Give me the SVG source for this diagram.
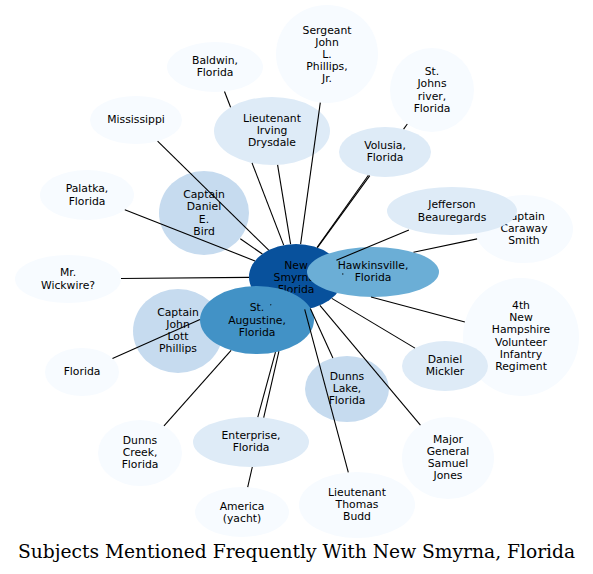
<svg xmlns="http://www.w3.org/2000/svg" width="593" height="574" viewBox="0 0 593 574">
<style>
.n text{font-family:"DejaVu Sans","Liberation Sans",sans-serif;font-size:10.8px;fill:#000;text-anchor:middle}
.c0{fill:#08519c}.c1{fill:#4292c6}.c2{fill:#6baed6}.c3{fill:#c6dbef}.c4{fill:#deebf7}.c5{fill:#f7fbff}
#edges line{stroke:#000;stroke-width:1.1;fill:none}
.title{font-family:"DejaVu Serif","Liberation Serif",serif;font-size:18.67px;fill:#000;text-anchor:middle}
</style>
<rect width="593" height="574" fill="#fff"/>
<g id="nodes">
<g id="n-center" class="n"><ellipse class="c0" cx="296" cy="277" rx="47" ry="33"/><text><tspan x="296" y="268.8">New</tspan><tspan x="296" y="281">Smyrna,</tspan><tspan x="296" y="293.2">Florida</tspan></text></g>
<g id="n-caraway" class="n"><ellipse class="c5" cx="524" cy="229" rx="49" ry="34"/><text><tspan x="524" y="219.8">Captain</tspan><tspan x="524" y="232">Caraway</tspan><tspan x="524" y="244.2">Smith</tspan></text></g>
<g id="n-nh4" class="n"><ellipse class="c5" cx="521" cy="337" rx="58" ry="59"/><text><tspan x="521" y="309">4th</tspan><tspan x="521" y="321.2">New</tspan><tspan x="521" y="333.4">Hampshire</tspan><tspan x="521" y="345.6">Volunteer</tspan><tspan x="521" y="357.8">Infantry</tspan><tspan x="521" y="370">Regiment</tspan></text></g>
<g id="n-sergeant" class="n"><ellipse class="c5" cx="327" cy="54" rx="51" ry="49"/><text><tspan x="327" y="33.6">Sergeant</tspan><tspan x="327" y="45.8">John</tspan><tspan x="327" y="58">L.</tspan><tspan x="327" y="70.2">Phillips,</tspan><tspan x="327" y="82.4">Jr.</tspan></text></g>
<g id="n-stjohns" class="n"><ellipse class="c5" cx="432" cy="90" rx="42" ry="42"/><text><tspan x="432" y="75.2">St.</tspan><tspan x="432" y="87.4">Johns</tspan><tspan x="432" y="99.6">river,</tspan><tspan x="432" y="111.8">Florida</tspan></text></g>
<g id="n-baldwin" class="n"><ellipse class="c5" cx="215" cy="67" rx="48" ry="25"/><text><tspan x="215" y="63.9">Baldwin,</tspan><tspan x="215" y="76.1">Florida</tspan></text></g>
<g id="n-mississippi" class="n"><ellipse class="c5" cx="136" cy="120" rx="46" ry="24"/><text><tspan x="136" y="123">Mississippi</tspan></text></g>
<g id="n-palatka" class="n"><ellipse class="c5" cx="87" cy="195" rx="47" ry="25"/><text><tspan x="87" y="192.4">Palatka,</tspan><tspan x="87" y="204.6">Florida</tspan></text></g>
<g id="n-wickwire" class="n"><ellipse class="c5" cx="68" cy="279" rx="53" ry="24"/><text><tspan x="68" y="276.4">Mr.</tspan><tspan x="68" y="288.6">Wickwire?</tspan></text></g>
<g id="n-florida" class="n"><ellipse class="c5" cx="82" cy="372" rx="37" ry="24"/><text><tspan x="82" y="375">Florida</tspan></text></g>
<g id="n-dunnscreek" class="n"><ellipse class="c5" cx="140" cy="453" rx="42" ry="33"/><text><tspan x="140" y="443.8">Dunns</tspan><tspan x="140" y="456">Creek,</tspan><tspan x="140" y="468.2">Florida</tspan></text></g>
<g id="n-america" class="n"><ellipse class="c5" cx="242" cy="512" rx="47" ry="25"/><text><tspan x="242" y="509.9">America</tspan><tspan x="242" y="522.1">(yacht)</tspan></text></g>
<g id="n-jones" class="n"><ellipse class="c5" cx="448" cy="458" rx="46" ry="41"/><text><tspan x="448" y="442.7">Major</tspan><tspan x="448" y="454.9">General</tspan><tspan x="448" y="467.1">Samuel</tspan><tspan x="448" y="479.3">Jones</tspan></text></g>
<g id="n-budd" class="n"><ellipse class="c5" cx="357" cy="505" rx="58" ry="33"/><text><tspan x="357" y="495.8">Lieutenant</tspan><tspan x="357" y="508">Thomas</tspan><tspan x="357" y="520.2">Budd</tspan></text></g>
<g id="n-drysdale" class="n"><ellipse class="c4" cx="272" cy="131" rx="58" ry="34"/><text><tspan x="272" y="121.8">Lieutenant</tspan><tspan x="272" y="134">Irving</tspan><tspan x="272" y="146.2">Drysdale</tspan></text></g>
<g id="n-volusia" class="n"><ellipse class="c4" cx="385" cy="152" rx="46" ry="25"/><text><tspan x="385" y="148.9">Volusia,</tspan><tspan x="385" y="161.1">Florida</tspan></text></g>
<g id="n-enterprise" class="n"><ellipse class="c4" cx="251" cy="442" rx="58" ry="25"/><text><tspan x="251" y="438.9">Enterprise,</tspan><tspan x="251" y="451.1">Florida</tspan></text></g>
<g id="n-bird" class="n"><ellipse class="c3" cx="204" cy="213" rx="45" ry="42"/><text><tspan x="204" y="198.2">Captain</tspan><tspan x="204" y="210.4">Daniel</tspan><tspan x="204" y="222.6">E.</tspan><tspan x="204" y="234.8">Bird</tspan></text></g>
<g id="n-phillips" class="n"><ellipse class="c3" cx="178" cy="331" rx="45" ry="42"/><text><tspan x="178" y="315.7">Captain</tspan><tspan x="178" y="327.9">John</tspan><tspan x="178" y="340.1">Lott</tspan><tspan x="178" y="352.3">Phillips</tspan></text></g>
<g id="n-dunnslake" class="n"><ellipse class="c3" cx="347" cy="389" rx="42" ry="33"/><text><tspan x="347" y="379.8">Dunns</tspan><tspan x="347" y="392">Lake,</tspan><tspan x="347" y="404.2">Florida</tspan></text></g>
<g id="n-hawkinsville" class="n"><ellipse class="c2" cx="373" cy="272" rx="66" ry="25"/><text><tspan x="373" y="268.9">Hawkinsville,</tspan><tspan x="373" y="281.1">Florida</tspan></text></g>
<g id="n-staugustine" class="n"><ellipse class="c1" cx="257" cy="320" rx="57" ry="34"/><text><tspan x="257" y="311.3">St.</tspan><tspan x="257" y="323.5">Augustine,</tspan><tspan x="257" y="335.7">Florida</tspan></text></g>
<g id="n-jefferson" class="n"><ellipse class="c4" cx="452" cy="211" rx="65" ry="24"/><text><tspan x="452" y="208.4">Jefferson</tspan><tspan x="452" y="220.6">Beauregards</tspan></text></g>
<g id="n-mickler" class="n"><ellipse class="c4" cx="445" cy="366" rx="43" ry="25"/><text><tspan x="445" y="362.9">Daniel</tspan><tspan x="445" y="375.1">Mickler</tspan></text></g>
</g>
<g id="edges">
<line x1="320.3" y1="102.6" x2="300.6" y2="244.2"/>
<line x1="407.3" y1="124" x2="403.6" y2="129.1"/>
<line x1="369.8" y1="175.6" x2="317.4" y2="247.6"/>
<line x1="224.5" y1="91.5" x2="230.6" y2="107.2"/>
<line x1="252" y1="162.9" x2="283.7" y2="245.1"/>
<line x1="277.6" y1="164.8" x2="290.6" y2="244.2"/>
<line x1="368.4" y1="175.3" x2="317" y2="247.5"/>
<line x1="408.9" y1="230" x2="336.4" y2="260.2"/>
<line x1="477.1" y1="238.9" x2="413.5" y2="252.3"/>
<line x1="342.3" y1="274.1" x2="343.3" y2="273.9"/>
<line x1="240.3" y1="238.8" x2="262.4" y2="254"/>
<line x1="157.6" y1="141.2" x2="268.7" y2="250.2"/>
<line x1="124.8" y1="209.8" x2="255" y2="260.9"/>
<line x1="121" y1="278.5" x2="249" y2="277.4"/>
<line x1="112.5" y1="358.4" x2="200" y2="319.6"/>
<line x1="270.4" y1="304.5" x2="271.2" y2="305.1"/>
<line x1="164" y1="425.9" x2="231.1" y2="350.3"/>
<line x1="257.8" y1="417.2" x2="275.5" y2="352.1"/>
<line x1="247.7" y1="487.2" x2="252.3" y2="467"/>
<line x1="263.7" y1="417.6" x2="278.9" y2="351.4"/>
<line x1="310.3" y1="308.4" x2="332.9" y2="357.9"/>
<line x1="304.7" y1="309.4" x2="348.3" y2="472.4"/>
<line x1="319.9" y1="305.4" x2="420.4" y2="425.2"/>
<line x1="331.8" y1="298.4" x2="415" y2="348.1"/>
<line x1="371" y1="297" x2="464.9" y2="322"/>
</g>
<text class="title" x="296.5" y="558">Subjects Mentioned Frequently With New Smyrna, Florida</text>
</svg>
